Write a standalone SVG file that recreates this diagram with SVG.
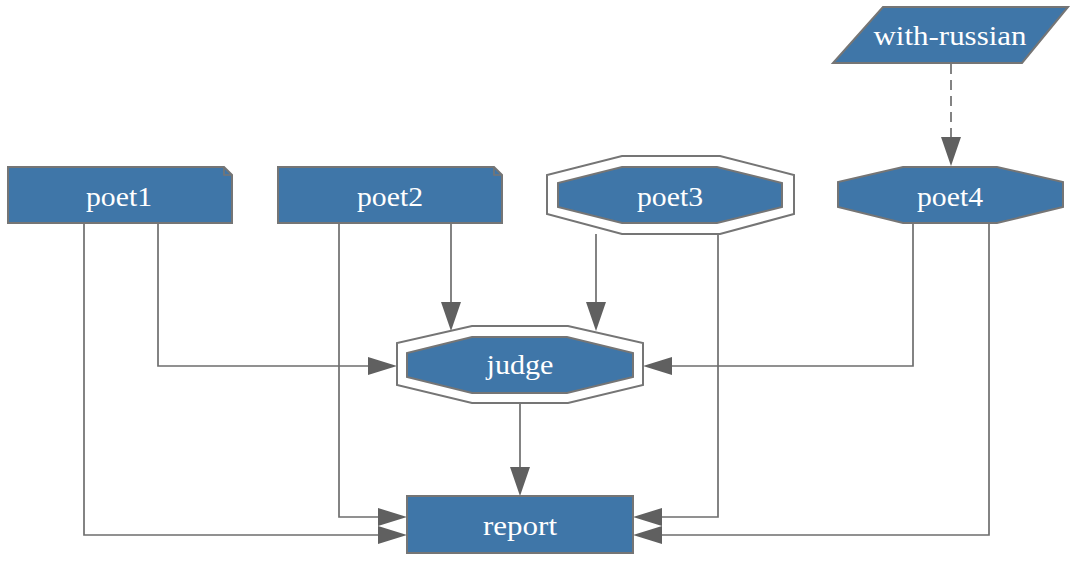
<svg xmlns="http://www.w3.org/2000/svg" width="1074" height="562" viewBox="0 0 1074 562">
<style>
.n{fill:#3f76a8;stroke:#757575;stroke-width:2}
.o{fill:#ffffff;stroke:#757575;stroke-width:2}
.t{fill:#ffffff;font-family:"Liberation Serif","Times New Roman",serif;font-size:27px;text-anchor:middle}
.e{fill:none;stroke:#6e6e6e;stroke-width:1.7}
.d{stroke-dasharray:10 6}
.a{fill:#606060}
</style>
<rect width="1074" height="562" fill="#ffffff"/>
<g id="connectors">
<path class="e" d="M158,223 V366 H370"/><polygon class="a" points="397,366 368,357 368,375"/>
<path class="e" d="M84,223 V535 H380"/><polygon class="a" points="407,535 378,526 378,544"/>
<path class="e" d="M451,223 V304"/><polygon class="a" points="451,331 441,302 461,302"/>
<path class="e" d="M339,223 V517 H380"/><polygon class="a" points="407,517 378,508 378,526"/>
<path class="e" d="M596,234 V304"/><polygon class="a" points="596,331 586,302 606,302"/>
<path class="e" d="M718,234 V517 H660"/><polygon class="a" points="633,517 662,508 662,526"/>
<path class="e" d="M913,223 V366 H670"/><polygon class="a" points="643,366 672,357 672,375"/>
<path class="e" d="M989,223 V535 H660"/><polygon class="a" points="633,535 662,526 662,544"/>
<path class="e" d="M520,403 V469"/><polygon class="a" points="520,496 510,467 530,467"/>
<path class="e d" d="M951,64 V139"/><polygon class="a" points="951,166 941,137 961,137"/>
</g>
<g id="poet1">
<path class="n" d="M8,167 H224 L232,175 V223 H8 Z"/>
<path class="e" d="M224,167 V175 H232" style="stroke:#757575"/>
<text class="t" x="119" y="206" textLength="66" lengthAdjust="spacingAndGlyphs">poet1</text>
</g>
<g id="poet2">
<path class="n" d="M278,167 H494 L502,175 V223 H278 Z"/>
<path class="e" d="M494,167 V175 H502" style="stroke:#757575"/>
<text class="t" x="390" y="206" textLength="66" lengthAdjust="spacingAndGlyphs">poet2</text>
</g>
<g id="poet3">
<polygon class="o" points="622,156 720,156 794,175 794,214 720,234 622,234 547,214 547,175"/>
<polygon class="n" points="622,167 717,167 782,183 782,207 717,223 622,223 558,207 558,183"/>
<text class="t" x="670" y="206" textLength="66" lengthAdjust="spacingAndGlyphs">poet3</text>
</g>
<g id="poet4">
<polygon class="n" points="903,167 997,167 1063,182 1063,207 997,223 903,223 838,207 838,182"/>
<text class="t" x="950" y="206" textLength="66" lengthAdjust="spacingAndGlyphs">poet4</text>
</g>
<g id="with-russian">
<polygon class="n" points="883,7 1068,7 1022,63 833,63"/>
<text class="t" x="950" y="45" textLength="153" lengthAdjust="spacingAndGlyphs">with-russian</text>
</g>
<g id="judge">
<polygon class="o" points="472,326 568,326 643,343 643,385 568,403 472,403 397,385 397,343"/>
<polygon class="n" points="472,337 567,337 633,353 633,377 567,393 472,393 407,377 407,353"/>
<text class="t" x="520" y="374" textLength="67" lengthAdjust="spacingAndGlyphs">judge</text>
</g>
<g id="report">
<rect class="n" x="407" y="496" width="226" height="57"/>
<text class="t" x="520" y="535" textLength="74" lengthAdjust="spacingAndGlyphs">report</text>
</g>
</svg>
